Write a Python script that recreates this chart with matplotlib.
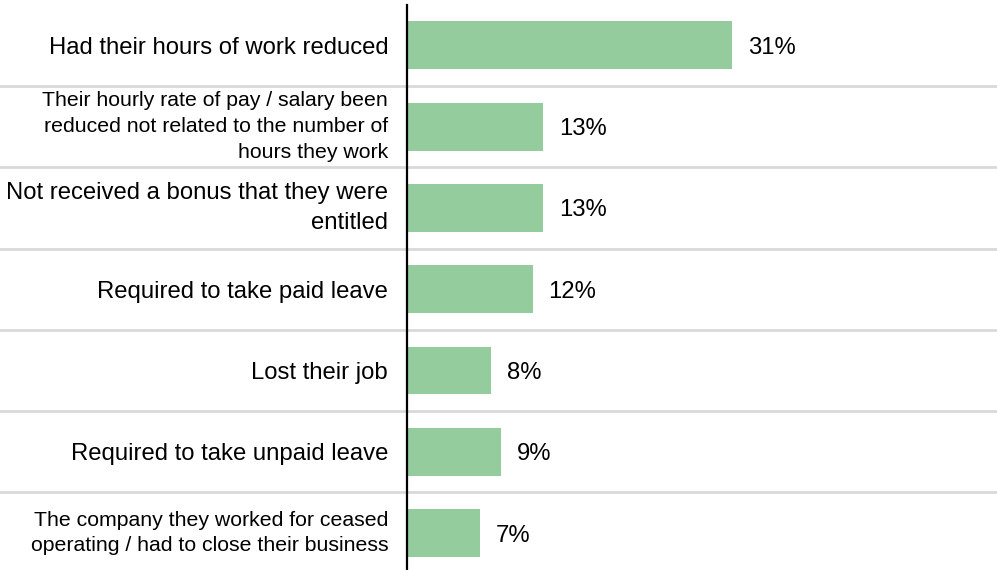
import matplotlib
matplotlib.use("Agg")
import matplotlib.pyplot as plt

categories = [
    "Had their hours of work reduced",
    "Their hourly rate of pay / salary been\nreduced not related to the number of\nhours they work",
    "Not received a bonus that they were\nentitled",
    "Required to take paid leave",
    "Lost their job",
    "Required to take unpaid leave",
    "The company they worked for ceased\noperating / had to close their business",
]
values = [31, 13, 13, 12, 8, 9, 7]
label_sizes = [17.2, 15.3, 17.2, 17.2, 17.2, 17.2, 15.3]

plt.rcParams["font.family"] = ["Liberation Sans", "DejaVu Sans"]

fig = plt.figure(figsize=(9.97, 5.70), dpi=100)
left_px, fig_w, fig_h = 407, 997, 570
ax = fig.add_axes([left_px / fig_w, 0, 1 - left_px / fig_w, 565 / fig_h])

bar_color = "#95cc9e"
y = list(range(len(categories)))
ax.barh(y, values, height=0.59, color=bar_color, zorder=2)

ax.set_xlim(0, 56.3)
ax.set_ylim(6.455, -0.498)

for i, (v, lab, fs) in enumerate(zip(values, categories, label_sizes)):
    ax.text(v + 1.5, i, f"{v}%", va="center_baseline", ha="left",
            fontsize=17.2, color="black")
    valign = "center" if "\n" in lab else "center_baseline"
    ax.text(-1.8, i, lab, va=valign, ha="right", fontsize=fs,
            color="black", linespacing=1.45)

# row separators spanning the full width, including the label column
for k in range(len(categories) - 1):
    ax.axhline(k + 0.5, xmin=-left_px / (fig_w - left_px), xmax=0.999,
               color="#d9d9d9", linewidth=2.0, clip_on=False, zorder=1)

for s in ["top", "right", "bottom"]:
    ax.spines[s].set_visible(False)
ax.spines["left"].set_linewidth(1.6)
ax.spines["left"].set_color("black")
ax.set_xticks([])
ax.set_yticks([])
ax.patch.set_alpha(0)

fig.savefig("out.png", dpi=100)
